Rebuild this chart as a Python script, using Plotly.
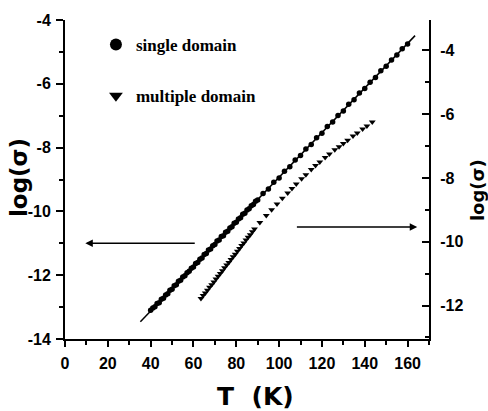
import plotly.graph_objects as go

# ---- data ----
single_T = [40, 41, 42, 43, 44, 45, 46, 47, 48, 49, 50, 51, 52, 53, 54, 55, 56, 57, 58, 59,
            60, 61, 62, 63, 64, 65, 66, 67, 68, 69, 70, 71, 72, 73, 74, 75, 76, 77, 78, 79,
            80, 81, 82, 83, 84, 85, 86, 87, 88, 89, 90,
            92.5, 95, 97.5, 100, 102.5, 105, 107.5, 110, 112.5, 115, 117.5, 120, 122.5, 125,
            127.5, 130, 132.5, 135, 137.5, 140, 142.5, 145, 147.5, 150, 152.5, 155, 157.5, 160]
single_log = [-13.10, -13.03, -12.99, -12.89, -12.86, -12.75, -12.72, -12.62, -12.58, -12.47,
              -12.44, -12.33, -12.30, -12.19, -12.16, -12.06, -12.02, -11.92, -11.88, -11.78,
              -11.74, -11.63, -11.60, -11.50, -11.46, -11.35, -11.32, -11.21, -11.18, -11.08,
              -11.04, -10.93, -10.90, -10.79, -10.76, -10.65, -10.62, -10.52, -10.48, -10.37,
              -10.34, -10.24, -10.20, -10.09, -10.06, -9.96, -9.92, -9.82, -9.78, -9.68, -9.64,
              -9.44, -9.30, -9.09, -8.95, -8.74, -8.60, -8.39, -8.25, -8.04, -7.90, -7.69,
              -7.55, -7.34, -7.20, -6.99, -6.85, -6.64, -6.50, -6.29, -6.15, -5.95, -5.80,
              -5.59, -5.45, -5.25, -5.10, -4.90, -4.75]

multi_T = [63.5, 64.5, 65.5, 66.5, 67.5, 68.5, 69.5, 70.5, 71.5, 72.5, 73.5, 74.5, 75.5,
           76.5, 77.5, 78.5, 79.5, 80.5, 81.5, 82.5, 83.5, 84.5, 85.5, 86.5, 87.5, 88.5,
           91, 94, 96.5, 99, 101.5, 104, 106, 108, 110.5, 112.5, 115, 117, 119, 121.5,
           123.5, 126, 128, 130, 132, 134.5, 136.5, 139, 141, 143.5]
multi_log = [-11.78, -11.69, -11.61, -11.52, -11.43, -11.35, -11.26, -11.17, -11.08, -11.00,
             -10.91, -10.82, -10.73, -10.65, -10.56, -10.47, -10.39, -10.30, -10.21, -10.12,
             -10.04, -9.95, -9.86, -9.78, -9.69, -9.60,
             -9.40, -9.18, -9.00, -8.82, -8.64, -8.47, -8.33, -8.19, -8.03, -7.90, -7.74,
             -7.61, -7.50, -7.36, -7.25, -7.12, -7.02, -6.92, -6.82, -6.69, -6.59, -6.47,
             -6.37, -6.25]

fit_T = [35.2, 163.5]
fit_log = [-13.46, -4.49]

x_ticks = [0, 20, 40, 60, 80, 100, 120, 140, 160]
x_tick_text = ["0", "20", "40", "60", "80", "100", "120", "140", "160"]
left_ticks = [-14, -12, -10, -8, -6, -4]
left_tick_text = ["-14", "-12", "-10", "-8", "-6", "-4"]
right_ticks = [-12, -10, -8, -6, -4]
right_tick_text = ["-12", "-10", "-8", "-6", "-4"]

# ---- styles ----
tick_font = dict(family="Liberation Sans, Arial", size=16, color="black", weight="bold")
title_font = dict(family="DejaVu Sans", color="black", weight="bold")

fig = go.Figure()
fig.add_trace(go.Scatter(x=fit_T, y=fit_log, mode="lines",
                         line=dict(color="black", width=1.5), showlegend=False,
                         hoverinfo="skip"))
fig.add_trace(go.Scatter(x=single_T, y=single_log, mode="markers", name="single domain",
                         legendgroup="a",
                         marker=dict(symbol="circle", size=5.5, color="black")))
fig.add_trace(go.Scatter(x=multi_T, y=multi_log, mode="markers", name="multiple domain",
                         legendgroup="b", yaxis="y2",
                         marker=dict(symbol="triangle-down", size=6, color="black")))

axis_common = dict(showline=True, linewidth=2, linecolor="black", showgrid=False,
                   zeroline=False, tickwidth=1.5, tickcolor="black", tickfont=tick_font)

fig.update_layout(
    width=488, height=411,
    margin=dict(l=65, r=59, t=18, b=72),
    paper_bgcolor="white", plot_bgcolor="white",
    xaxis=dict(range=[0, 170], tickvals=x_ticks, ticktext=x_tick_text, ticks="outside",
               ticklen=6, ticklabelstandoff=3,
               minor=dict(ticks="outside", ticklen=4, tickwidth=1.5, tickcolor="black",
                          dtick=10, tick0=0),
               **axis_common),
    yaxis=dict(range=[-14, -4], tickvals=left_ticks, ticktext=left_tick_text,
               ticks="outside", ticklen=7, ticklabelstandoff=2,
               minor=dict(ticks="outside", ticklen=4, tickwidth=1.5, tickcolor="black",
                          dtick=1, tick0=0),
               **axis_common),
    yaxis2=dict(range=[-13.05, -3.05], overlaying="y", side="right", tickvals=right_ticks,
                ticktext=right_tick_text, ticks="inside", ticklen=7, ticklabelstandoff=6,
                minor=dict(ticks="inside", ticklen=4, tickwidth=1.5, tickcolor="black",
                           dtick=1, tick0=0),
                **axis_common),
    showlegend=True,
    legend=dict(x=0.085, y=0.978, xanchor="left", yanchor="top",
                font=dict(family="Liberation Serif, Times New Roman", size=17,
                          color="black", weight="bold"),
                bgcolor="rgba(0,0,0,0)", tracegroupgap=26, itemsizing="constant"),
    annotations=[
        dict(text="log(σ)", xref="paper", yref="paper", x=-0.126, y=0.505,
             xanchor="center", yanchor="middle",
             textangle=-90, showarrow=False, font=dict(size=23, **title_font)),
        dict(text="log(σ)", xref="paper", yref="paper", x=1.132, y=0.467,
             xanchor="center", yanchor="middle",
             textangle=-90, showarrow=False, font=dict(size=18, **title_font)),
        dict(text="T  (K)", xref="paper", yref="paper", x=0.522, y=-0.181,
             xanchor="center", yanchor="middle",
             showarrow=False, font=dict(size=25, **title_font)),
        dict(text="", x=9.5, y=-11, ax=61.3, ay=-11, xref="x", yref="y",
             axref="x", ayref="y", showarrow=True, arrowhead=2, arrowsize=1,
             arrowwidth=1.5, arrowcolor="black"),
        dict(text="", x=164.5, y=-10.49, ax=107.6, ay=-10.49, xref="x", yref="y",
             axref="x", ayref="y", showarrow=True, arrowhead=2, arrowsize=1,
             arrowwidth=1.5, arrowcolor="black"),
    ],
)

fig.write_html("out.html")
